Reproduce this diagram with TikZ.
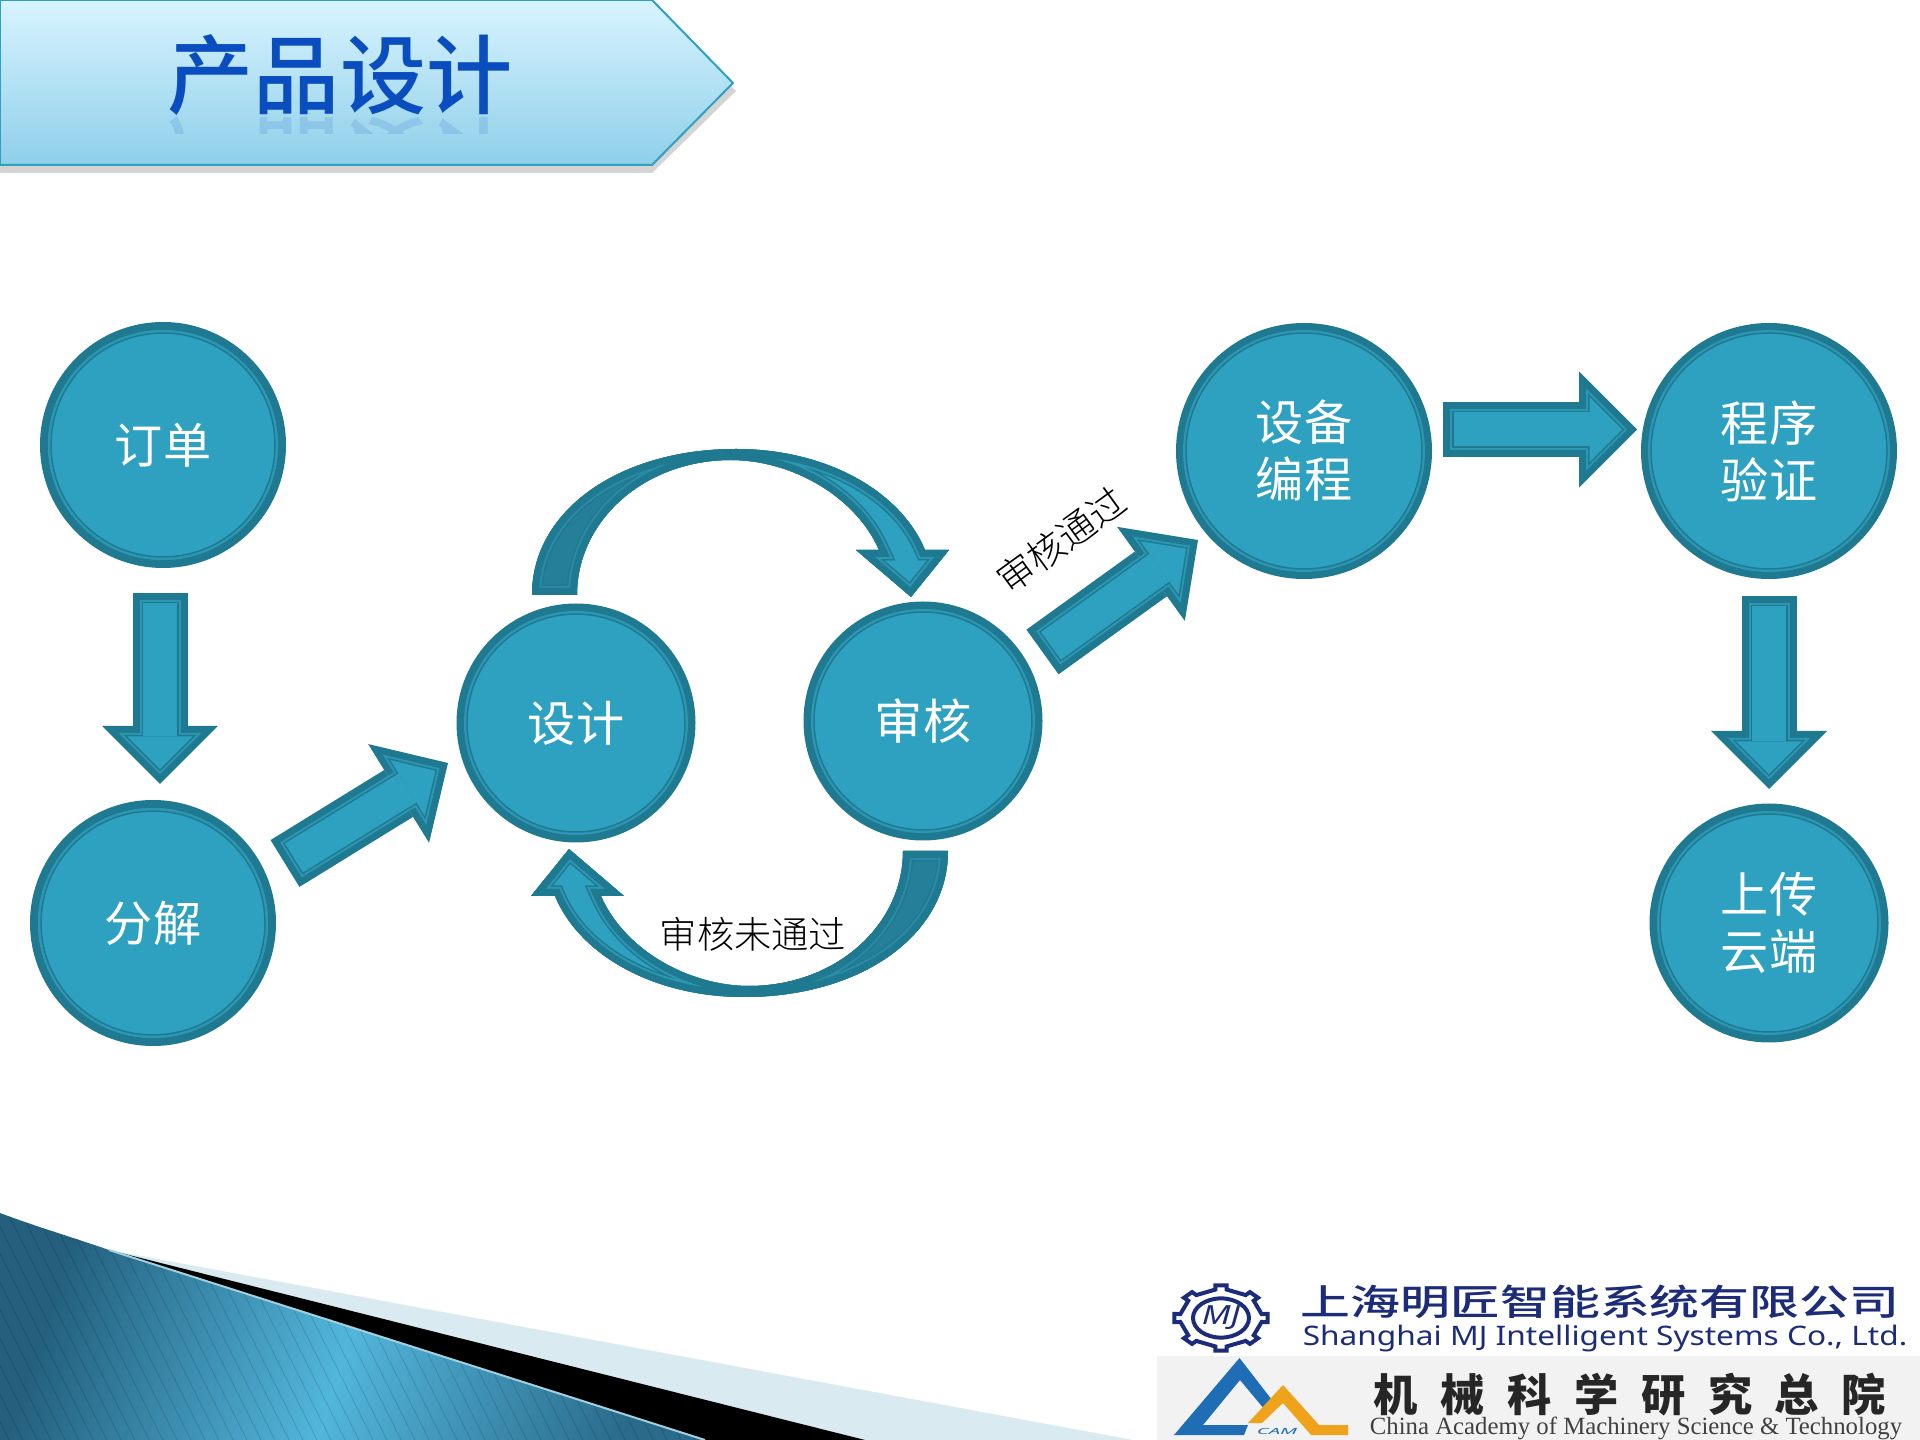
\documentclass[tikz,border=0pt]{standalone}
\usepackage{fontspec}
\setmainfont{Liberation Serif}
\newfontfamily\cjkfont{Noto Sans CJK SC}
\newfontfamily\cjkheavy{Noto Sans CJK SC Medium}
\newfontfamily\cjkthin{Noto Sans CJK SC Light}
\newfontfamily\cjkspaced[LetterSpace=51]{Noto Sans CJK SC}
\newfontfamily\latinfont{Noto Sans}
\usetikzlibrary{arrows.meta}

\definecolor{tealfill}{HTML}{2DA1BF}
\definecolor{tealdark}{HTML}{1F7991}
\definecolor{tealback}{HTML}{257F98}
\definecolor{tealline}{HTML}{2C96B3}
\definecolor{tealfaint}{HTML}{2B8AA5}
\definecolor{titleblue}{HTML}{0A4DBE}
\definecolor{bannertop}{HTML}{D8F4FF}
\definecolor{bannerbottom}{HTML}{8FCFE9}
\definecolor{cornerpale}{HTML}{D9EAF1}
\definecolor{cornerdark}{HTML}{24607E}
\definecolor{cornerbright}{HTML}{52B6DB}
\definecolor{cornerend}{HTML}{2A6A8A}
\definecolor{logonavy}{HTML}{1C2C78}
\definecolor{logoblue}{HTML}{1F6DB5}
\definecolor{logoorange}{HTML}{EFA21C}

\tikzset{
    stepnode/.style={circle, draw=tealdark, fill=tealfill, line width=0.8mm, inner sep=0pt,
        text=white, align=center, font=\cjkfont\fontsize{13.7}{16.2}\selectfont},
    lightring/.style={draw=tealline, line width=0.2mm},
    darkring/.style={draw=tealdark, line width=0.15mm},
    notelabel/.style={inner sep=0pt, font=\cjkthin\fontsize{10.6}{12}\selectfont},
    titlelabel/.style={inner sep=0pt, text=titleblue, font=\cjkheavy\fontsize{24.5}{28}\selectfont},
}

% one straight block arrow, layer over layer
\newcommand{\bigarrow}[2]{
    \draw[tealdark, line width=5.5mm, -{Triangle[length=5.8mm,width=11.6mm,line width=0pt]}] (#1) -- (#2);
    \draw[tealline, line width=4.1mm, shorten <=0.7mm, shorten >=0.99mm, -{Triangle[length=4.11mm,width=8.22mm,line width=0pt]}] (#1) -- (#2);
    \draw[tealdark, line width=3.7mm, shorten <=0.9mm, shorten >=1.27mm, -{Triangle[length=3.63mm,width=7.26mm,line width=0pt]}] (#1) -- (#2);
    \draw[tealfill, line width=3.4mm, shorten <=1.05mm, shorten >=1.48mm, -{Triangle[length=3.27mm,width=6.54mm,line width=0pt]}] (#1) -- (#2);
}
% a filled part of the bent arrow with its bands
\newcommand{\bandedpart}[3]{
    \fill[#2] #1;
    \begin{scope}
        \clip #1;
        \draw[tealdark, line width=2.1mm, line join=miter] #1;
        \draw[#3, line width=1.8mm, line join=miter] #1;
        \draw[tealdark, line width=1.4mm, line join=miter] #1;
    \end{scope}
}
\newcommand{\bentarrow}{
    \bandedpart{(532,595) .. controls (532,510) and (620,449) .. (736,449)
        -- (731,460) .. controls (645,460) and (577,520) .. (577,595) -- cycle}{tealback}{tealfaint}
    \bandedpart{(736,449) .. controls (825,449) and (900,490) .. (925,550)
        -- (949,550) -- (911,597) -- (856,550) -- (879,550)
        .. controls (855,495) and (790,460) .. (731,460) -- cycle}{tealfill}{tealline}
}

\begin{document}
\begin{tikzpicture}[x=0.1mm,y=-0.1mm]
    \useasboundingbox (0,0) rectangle (1920,1440);

    % the banner on top
    \fill[black!17] (0,173) -- (652,173) -- (736,91) -- (652,8) -- (0,8) -- cycle;
    \shade[top color=bannertop, bottom color=bannerbottom, draw=tealfill, line width=0.2mm]
        (0,0) -- (652,0) -- (733,83) -- (652,165) -- (0,165) -- cycle;
    \begin{scope}
        \clip (0,116) rectangle (650,134);
        \node[titlelabel, yscale=-1, opacity=0.13] (titleshade) at (340,157) {产品设计};
    \end{scope}
    \node[titlelabel] (title) at (340,75) {产品设计};

    % the bottom corner
    \fill[cornerpale] (109,1250) -- (1133,1440) -- (705,1440) -- cycle;
    \fill[black] (109,1250) -- (865,1440) -- (705,1440) -- cycle;
    \shade[left color=cornerdark, right color=cornerend, middle color=cornerbright, shading angle=72]
        (0,1213) .. controls (40,1228) and (75,1238) .. (109,1250) -- (705,1440) -- (0,1440) -- cycle;
    \begin{scope}
        \clip (0,1213) .. controls (40,1228) and (75,1238) .. (109,1250) -- (705,1440) -- (0,1440) -- cycle;
        \foreach \x in {-120,-106,...,720}
            \draw[black, opacity=0.14, line width=0.08mm] (\x,1210) -- (\x+115,1440);
    \end{scope}
    \draw[tealline!45!white, line width=0.2mm] (109,1250) -- (705,1440);

    % the circles
    \node[stepnode, minimum size=23.8mm] (order) at (163,445) {订单};
    \node[stepnode, minimum size=23.8mm] (split) at (153,923) {分解};
    \node[stepnode, minimum size=23.1mm] (design) at (576,723) {设计};
    \node[stepnode, minimum size=23.1mm] (review) at (923,721) {审核};
    \node[stepnode, minimum size=24.8mm] (program) at (1304,451) {设备\\编程};
    \node[stepnode, minimum size=24.8mm] (verify) at (1769,451) {程序\\验证};
    \node[stepnode, minimum size=23.1mm] (upload) at (1769,923) {上传\\云端};
    \foreach \n/\r in {order/123,split/123,design/120,review/120,program/129,verify/129,upload/120} {
        \draw[lightring] (\n) circle ({\r-9});
        \draw[darkring] (\n) circle ({\r-11});
    }

    % the free ends of the arrows
    \coordinate (orderout) at (160,593);
    \coordinate (splitin) at (160,784);
    \coordinate (splitout) at (285,863.5);
    \coordinate (designin) at (448,763);
    \coordinate (reviewout) at (1042.5,652);
    \coordinate (programin) at (1198,540);
    \coordinate (programout) at (1443,429.5);
    \coordinate (verifyin) at (1637,429.5);
    \coordinate (verifyout) at (1769,596);
    \coordinate (uploadin) at (1769,789);

    % draw the arrows
    \bigarrow{orderout}{splitin}
    \bigarrow{splitout}{designin}
    \bigarrow{reviewout}{programin}
    \bigarrow{programout}{verifyin}
    \bigarrow{verifyout}{uploadin}
    \bentarrow
    \begin{scope}[rotate around={180:(740,723)}]
        \bentarrow
    \end{scope}

    % the texts
    \node[notelabel] (failnote) at (753,934) {审核未通过};
    \node[notelabel, rotate=36] (passnote) at (1061,540) {审核通过};

    % the first logo
    \begin{scope}[shift={(1221,1318)}, xscale=1, yscale=0.7]
        \draw[logonavy, line width=0.4mm, fill=white] (-8:41)
            \foreach \a in {0,45,...,315} {
                -- ({\a-8}:41) -- ({\a-7}:47) -- ({\a+7}:47) -- ({\a+8}:41)
                -- ({\a+37}:41)
            } -- cycle;
        \draw[logonavy, line width=0.4mm] (0,0) circle (28);
    \end{scope}
    \node[inner sep=0pt, text=logonavy, xscale=1.3, font=\latinfont\bfseries\itshape\fontsize{7.5}{9}\selectfont] (mjmark) at (1221,1318) {MJ};
    \node[inner sep=0pt, text=logonavy, yscale=0.72, font=\cjkheavy\fontsize{14.2}{16}\selectfont] (mjname) at (1600,1302) {上海明匠智能系统有限公司};
    \node[inner sep=0pt, text=logonavy, yscale=0.85, font=\latinfont\bfseries\fontsize{9}{10}\selectfont] (mjlatin) at (1605,1339) {Shanghai MJ Intelligent Systems Co., Ltd.};

    % the second logo
    \fill[black!5] (1157,1356) rectangle (1920,1440);
    \fill[logoblue] (1174,1435) -- (1239.5,1358) -- (1272,1400) -- (1265,1410) -- (1240,1380)
        -- (1203,1425) -- (1248,1425) -- (1244,1435) -- cycle;
    \fill[logoorange] (1248,1423) -- (1283,1385) -- (1319,1425) -- (1348,1425) -- (1348,1435)
        -- (1311,1435) -- (1283,1403) -- (1262,1423) -- cycle;
    \node[inner sep=0pt, text=logoblue, xscale=2.4, font=\latinfont\bfseries\itshape\fontsize{2.4}{3}\selectfont] (cammark) at (1277,1431) {CAM};
    \node[inner sep=0pt, text=black!85, font=\cjkspaced\bfseries\fontsize{12.6}{15}\selectfont] (camname) at (1630,1395) {机械科学研究总院};
    \node[inner sep=0pt, text=black!75, font=\fontsize{7.05}{9}\selectfont] (camlatin) at (1636,1428) {China Academy of Machinery Science \& Technology};
\end{tikzpicture}
\end{document}
